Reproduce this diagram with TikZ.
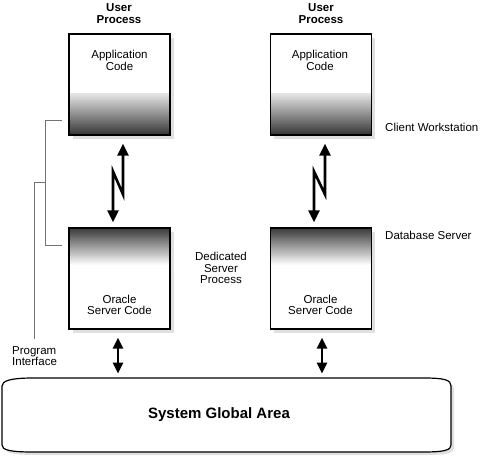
\documentclass[tikz,border=0pt]{standalone}
\usepackage{fontspec}
\setmainfont{Liberation Sans}
\usetikzlibrary{arrows.meta,calc,shadows}
\begin{document}
\begin{tikzpicture}[x=1pt,y=-1pt,
  lbl/.style={font=\fontsize{11.5}{11.3}\selectfont, align=center, inner sep=0},
  lbll/.style={lbl, align=left, anchor=west},
  hdr/.style={font=\fontsize{11.5}{12}\selectfont\bfseries, align=center, inner sep=0},
  box/.style={draw=black, line width=1.2pt, minimum width=101pt, minimum height=101pt, inner sep=0, fill=white,
    drop shadow={shadow xshift=3.5pt, shadow yshift=-3.5pt, fill=black!12, opacity=1}},
  topbox/.style={box, path picture={
      \foreach \i in {0,...,41}{
        \pgfmathtruncatemacro\c{78-68*\i/41}
        \fill[black!\c] ([yshift=\i pt]path picture bounding box.south west) rectangle ([yshift=\i pt+1.3pt]path picture bounding box.south east);
      }}},
  botbox/.style={box, path picture={
      \foreach \i in {0,...,37}{
        \pgfmathtruncatemacro\c{78-78*\i/37}
        \fill[black!\c] ([yshift=-\i pt]path picture bounding box.north west) rectangle ([yshift=-\i pt-1.3pt]path picture bounding box.north east);
      }}},
  zap/.style={line width=2.6pt, line join=miter, {Triangle[width=11pt,length=12pt]}-{Triangle[width=11pt,length=12pt]}},
  dbl/.style={line width=2.6pt, {Triangle[width=10pt,length=11pt]}-{Triangle[width=10pt,length=11pt]}},
  bracket/.style={draw=black!55, line width=0.8pt},
  sgaline/.style={draw=black, line width=1.2pt, fill=white},
]
\useasboundingbox (0,0) rectangle (483,458);

% boxes
\node[topbox] (app1) at (119.5,84.5) {};
\node[topbox] (app2) at (321,84.5) {};
\node[botbox] (srv1) at (119.5,278.5) {};
\node[botbox] (srv2) at (321,278.5) {};

% box texts
\node[lbl] (ac1) at (119.5,60.5) {Application\\Code};
\node[lbl] (ac2) at (320,60.5) {Application\\Code};
\node[lbl] (os1) at (119.5,305) {Oracle\\Server Code};
\node[lbl] (os2) at (320.5,305) {Oracle\\Server Code};

% headers
\node[hdr] (up1) at (119,14) {User\\Process};
\node[hdr] (up2) at (321,14) {User\\Process};

% side labels
\node[lbll] (cw) at (385,127) {Client Workstation};
\node[lbll] (ds) at (385,235) {Database Server};
\node[lbl] (dsp) at (221,268) {Dedicated\\Server\\Process};
\node[lbll] (pi) at (12,356) {Program\\Interface};

% brackets
\coordinate (b1) at (62,120);
\coordinate (b2) at (45,120);
\coordinate (b3) at (45,245);
\coordinate (b4) at (62,245);
\coordinate (b5) at (45,182);
\coordinate (b6) at (34,182);
\coordinate (b7) at (34,339);
\draw[bracket] (b1) -- (b2) -- (b3) -- (b4);
\draw[bracket] (b5) -- (b6) -- (b7);

% lightning connectors
\draw[zap] ([shift={(-6.5,-5)}]srv1.north) -- ++(0,-51) -- ++(10,23) -- ([shift={(3.5,8)}]app1.south);
\draw[zap] ([shift={(-7,-5)}]srv2.north) -- ++(0,-51) -- ++(11,23) -- ([shift={(4,8)}]app2.south);

% SGA
\fill[black!12] (36,381) -- (426,381) .. controls (448,381) and (454,383) .. (454,389)
  -- (454,448) .. controls (454,453) and (448,455) .. (426,455)
  -- (36,455) .. controls (13,455) and (5,453) .. (5,448)
  -- (5,389) .. controls (5,384) and (13,381) .. (36,381) -- cycle;
\draw[sgaline] (33,378) -- (423,378) .. controls (445,378) and (451,380) .. (451,386)
  -- (451,445) .. controls (451,450) and (445,452) .. (423,452)
  -- (33,452) .. controls (10,452) and (2,450) .. (2,445)
  -- (2,386) .. controls (2,381) and (10,378) .. (33,378) -- cycle;
\node[inner sep=0, font=\fontsize{15}{15}\selectfont\bfseries] (sga) at (219,415) {System Global Area};

% server to SGA arrows
\draw[dbl] ([shift={(-1.5,8)}]srv1.south) -- ++(0,36);
\draw[dbl] ([shift={(1,8)}]srv2.south) -- ++(0,36);
\end{tikzpicture}
\end{document}
